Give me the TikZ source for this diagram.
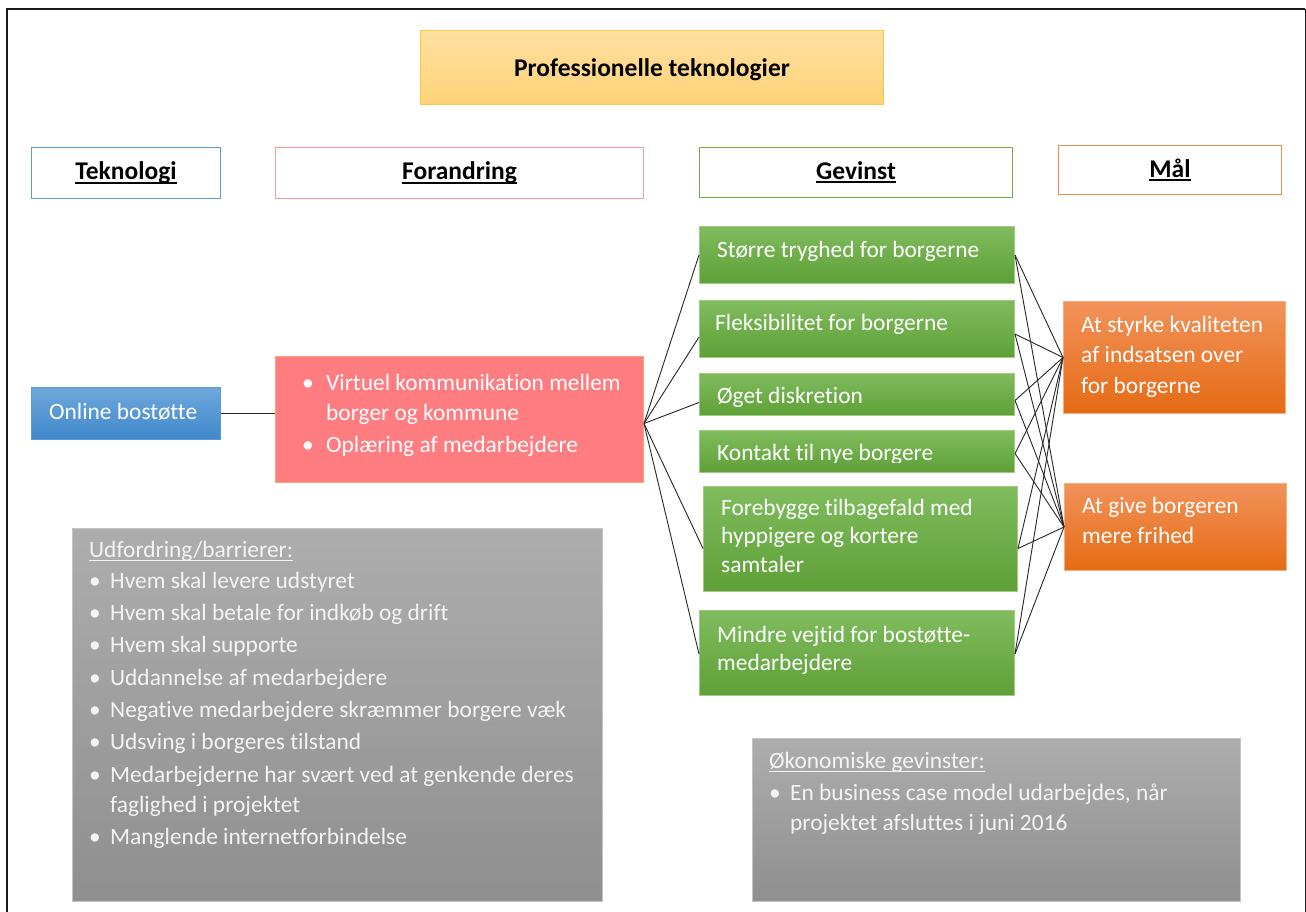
\documentclass[tikz,border=0pt]{standalone}
\usepackage{fontspec}
\setmainfont{Carlito}[Ligatures=NoCommon]
\definecolor{frameblk}{HTML}{1A1A1A}
\definecolor{titletop}{HTML}{FFE0A0}
\definecolor{titlebot}{HTML}{FFD278}
\definecolor{titlebd}{HTML}{FFC83D}
\definecolor{tekbd}{HTML}{5B9BD5}
\definecolor{forbd}{HTML}{FF9A9C}
\definecolor{gevbd}{HTML}{70AD47}
\definecolor{malbd}{HTML}{F08C4C}
\definecolor{bluetop}{HTML}{6FA8DC}
\definecolor{bluebot}{HTML}{4088CB}
\definecolor{pinkfill}{HTML}{FF7C80}
\definecolor{pinkbd}{HTML}{F6A66C}
\definecolor{greentop}{HTML}{80BC5E}
\definecolor{greenbot}{HTML}{5EA037}
\definecolor{greenbd}{HTML}{9FCB82}
\definecolor{orangetop}{HTML}{F2925A}
\definecolor{orangebot}{HTML}{E56B14}
\definecolor{orangebd}{HTML}{F5AE7C}
\definecolor{graytop}{HTML}{ADADAD}
\definecolor{graybot}{HTML}{8F8F8F}
\definecolor{graybd}{HTML}{C4C4C4}
\definecolor{graytext}{HTML}{F4F4F4}
\definecolor{connc}{HTML}{262626}
\newcommand\fb{\fontsize{23.4}{30}\selectfont}
\newcommand\fh{\fontsize{25.5}{30}\selectfont\bfseries}
\newcommand\st{\rule{0pt}{20pt}}
\newcommand\ulh[1]{\setbox0\hbox{#1}\rlap{\vrule width\wd0 height -2pt depth 4pt}\box0}
\newcommand\ulg[1]{\setbox0\hbox{#1}\rlap{\vrule width\wd0 height -2.6pt depth 3.8pt}\box0}
\newcommand\bl[1]{\makebox[#1][l]{\textbullet}}
\begin{document}
\begin{tikzpicture}[x=1pt,y=-1pt,
  conn/.style={draw=connc, line width=0.9pt},
  hdr/.style={draw, line width=1pt, fill=white, anchor=north west, inner sep=0pt, font=\fh, text=black},
  cbox/.style={anchor=north west, inner sep=0pt, line width=1pt},
  bluebox/.style={cbox, draw=tekbd, top color=bluetop, bottom color=bluebot},
  pinkbox/.style={cbox, draw=pinkbd, fill=pinkfill},
  greenbox/.style={cbox, draw=greenbd, top color=greentop, bottom color=greenbot},
  orangebox/.style={cbox, draw=orangebd, top color=orangetop, bottom color=orangebot},
  graybox/.style={cbox, draw=graybd, top color=graytop, bottom color=graybot},
  tx/.style={anchor=north west, inner sep=0pt, align=left, text=white, font=\fb},
  gtx/.style={tx, text=graytext},
]
\useasboundingbox (0,0) rectangle (1306,912);
\fill[white] (0,0) rectangle (1306,912);
% frame
\draw[frameblk, line width=2.6pt] (7,912) -- (7,9) -- (1305,9);
\draw[frameblk, line width=1pt] (1305,9) -- (1305,912);

% title
\node[cbox, draw=titlebd, top color=titletop, bottom color=titlebot,
      minimum width=463, minimum height=74, font=\fh, text=black,
      text height=19pt, text depth=0pt] (title) at (420,30) {Professionelle teknologier};

% headers
\node[hdr, draw=tekbd, minimum width=189, minimum height=51] (h1) at (31,147) {\ulh{Teknologi}};
\node[hdr, draw=forbd, minimum width=368, minimum height=51] (h2) at (275,147) {\ulh{Forandring}};
\node[hdr, draw=gevbd, minimum width=313, minimum height=50] (h3) at (699,147) {\ulh{Gevinst}};
\node[hdr, draw=malbd, minimum width=223, minimum height=49] (h4) at (1058,145) {\ulh{Mål}};

% technology
\node[bluebox, minimum width=189, minimum height=52] (ob) at (31,387) {};
\node[tx] (obt) at (49,399) {\st Online bostøtte};

% change
\node[pinkbox, minimum width=368, minimum height=126] (fo) at (275,356) {};
\node[tx] (fot) at (302,370) {\st\bl{24pt}Virtuel kommunikation mellem\\\hspace*{24pt}borger og kommune\\[2pt]\bl{24pt}Oplæring af medarbejdere};

% benefits
\node[greenbox, minimum width=315, minimum height=57] (g1) at (699,226) {};
\node[tx] (g1t) at (717,237) {\st Større tryghed for borgerne};
\node[greenbox, minimum width=315, minimum height=57] (g2) at (699,300) {};
\node[tx] (g2t) at (715,310) {\st Fleksibilitet for borgerne};
\node[greenbox, minimum width=315, minimum height=42] (g3) at (699,373) {};
\begin{scope}
\clip (699,373) rectangle (1014,406);
\node[tx] (g3t) at (717,383) {\st Øget diskretion};
\end{scope}
\node[greenbox, minimum width=315, minimum height=42] (g4) at (699,430) {};
\begin{scope}
\clip (699,430) rectangle (1014,462);
\node[tx] (g4t) at (717,440) {\st Kontakt til nye borgere};
\end{scope}
\node[greenbox, minimum width=314, minimum height=105] (g5) at (703,486) {};
\node[tx, font=\fontsize{23.4}{28.5}\selectfont] (g5t) at (721,495) {\st Forebygge tilbagefald med\\hyppigere og kortere\\samtaler};
\node[greenbox, minimum width=315, minimum height=85] (g6) at (699,610) {};
\node[tx, font=\fontsize{23.4}{28}\selectfont] (g6t) at (717,622) {\st Mindre vejtid for bostøtte-\\medarbejdere};

% goals
\node[orangebox, minimum width=222, minimum height=112] (m1) at (1063,301) {};
\node[tx, font=\fontsize{23.4}{30.5}\selectfont] (m1t) at (1081,312) {\st At styrke kvaliteten\\af indsatsen over\\for borgerne};
\node[orangebox, minimum width=222, minimum height=87] (m2) at (1064,483) {};
\node[tx] (m2t) at (1082,493) {\st At give borgeren\\mere frihed};

% grey boxes
\node[graybox, minimum width=530, minimum height=373] (ch) at (72,528) {};
\node[gtx] (cht) at (89,537) {\st\ulg{Udfordring/barrierer:}\\[1pt]
\bl{21pt}Hvem skal levere udstyret\\[2.3pt]
\bl{21pt}Hvem skal betale for indkøb og drift\\[2.3pt]
\bl{21pt}Hvem skal supporte\\[2.3pt]
\bl{21pt}Uddannelse af medarbejdere\\[2.3pt]
\bl{21pt}Negative medarbejdere skræmmer borgere væk\\[2.3pt]
\bl{21pt}Udsving i borgeres tilstand\\[2.3pt]
\bl{21pt}Medarbejderne har svært ved at genkende deres\\
\hspace*{21pt}faglighed i projektet\\[2.3pt]
\bl{21pt}Manglende internetforbindelse};
\node[graybox, minimum width=488, minimum height=163] (ec) at (752,738) {};
\node[gtx] (ect) at (769,748) {\st\ulg{Økonomiske gevinster:}\\[2pt]
\bl{21pt}En business case model udarbejdes, når\\
\hspace*{21pt}projektet afsluttes i juni 2016};

% connectors
\draw[conn] (ob.east) -- (fo.west |- ob.east);
\draw[conn] ([yshift=-4pt]fo.east) -- (g1.west);
\draw[conn] ([yshift=-4pt]fo.east) -- ([yshift=-8pt]g2.west);
\draw[conn] ([yshift=-4pt]fo.east) -- ([yshift=-8pt]g3.west);
\draw[conn] ([yshift=-4pt]fo.east) -- ([yshift=-9.5pt]g5.west);
\draw[conn] ([yshift=-4pt]fo.east) -- ([yshift=-1pt]g6.west);

\foreach \g/\s in {g1/0pt, g2/-5pt, g3/-6pt, g4/-2pt, g5/-9.5pt, g6/-1pt}{
  \draw[conn] ([yshift=\s]\g.east) -- (m1.west);
  \draw[conn] ([yshift=\s]\g.east) -- (m2.west);
}
\end{tikzpicture}
\end{document}
